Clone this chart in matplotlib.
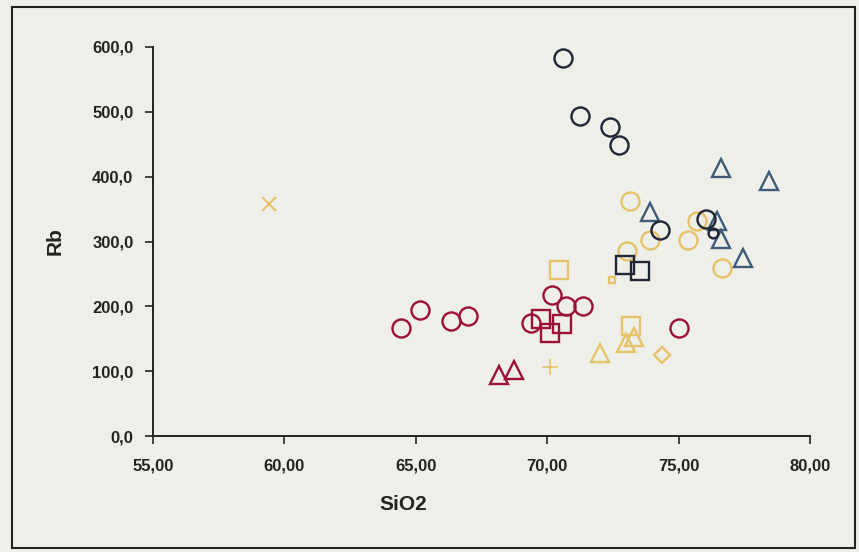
import matplotlib
matplotlib.use("Agg")
import matplotlib.pyplot as plt
from matplotlib.patches import Rectangle
from matplotlib.ticker import FuncFormatter

plt.rcParams['font.family'] = ['Liberation Sans Narrow', 'Liberation Sans', 'DejaVu Sans']

# navy circles
navy_circ_x = [70.6, 71.25, 72.4, 72.75, 74.3, 76.05]
navy_circ_y = [583, 494, 477, 449, 318, 334]
navy_small_x = [76.3]
navy_small_y = [313]
# navy squares
navy_sq_x = [72.95, 73.55]
navy_sq_y = [264, 255]
# steel blue triangles
blue_tri_x = [76.6, 78.45, 73.9, 76.45, 76.6, 77.45]
blue_tri_y = [413, 393, 345, 331, 304, 274]
# yellow group
yel_circ_x = [73.15, 73.9, 73.05, 75.7, 75.35, 76.65]
yel_circ_y = [362, 302, 285, 331, 303, 259]
yel_sq_x = [70.45, 73.2]
yel_sq_y = [256, 169]
yel_small_sq_x = [72.45]
yel_small_sq_y = [241]
yel_tri_x = [72.0, 73.0, 73.3]
yel_tri_y = [128, 143, 152]
yel_dia_x = [74.35]
yel_dia_y = [125]
yel_plus_x = [70.1]
yel_plus_y = [107]
yel_x_x = [59.4]
yel_x_y = [358]
# crimson group
red_circ_x = [64.45, 65.15, 66.35, 67.0, 69.4, 70.2, 70.7, 71.35, 75.0]
red_circ_y = [166, 195, 177, 185, 174, 218, 200, 201, 166]
red_sq_x = [69.75, 70.55, 70.1]
red_sq_y = [180, 173, 159]
red_tri_x = [68.15, 68.75]
red_tri_y = [94, 102]

navy = '#1f2535'
steel = '#3d5a78'
yellow = '#e6c26a'
crimson = '#9c1035'
bg = '#efefe9'

fig = plt.figure(figsize=(8.59, 5.52), dpi=100, facecolor=bg)
ax = fig.add_axes([0.178, 0.210, 0.765, 0.705])
ax.set_facecolor(bg)

def pts(x, y, marker, color, size=13, lw=1.7):
    ax.plot(x, y, linestyle='none', marker=marker, markersize=size,
            markerfacecolor='none', markeredgecolor=color, markeredgewidth=lw,
            clip_on=False)

pts(red_circ_x, red_circ_y, 'o', crimson)
pts(red_sq_x, red_sq_y, 's', crimson)
pts(red_tri_x, red_tri_y, '^', crimson)
pts(yel_circ_x, yel_circ_y, 'o', yellow)
pts(yel_sq_x, yel_sq_y, 's', yellow)
pts(yel_small_sq_x, yel_small_sq_y, 's', yellow, size=5)
pts(yel_tri_x, yel_tri_y, '^', yellow)
pts(yel_dia_x, yel_dia_y, 'D', yellow, size=8)
pts(yel_plus_x, yel_plus_y, '+', yellow, size=11, lw=1.2)
pts(yel_x_x, yel_x_y, 'x', yellow, size=10, lw=1.5)
pts(blue_tri_x, blue_tri_y, '^', steel)
pts(navy_circ_x, navy_circ_y, 'o', navy)
pts(navy_small_x, navy_small_y, 'o', navy, size=7)
pts(navy_sq_x, navy_sq_y, 's', navy)

ax.set_xlim(55, 80)
ax.set_ylim(0, 600)
ax.set_xticks([55, 60, 65, 70, 75, 80])
ax.set_yticks([0, 100, 200, 300, 400, 500, 600])
ax.xaxis.set_major_formatter(FuncFormatter(lambda v, p: f"{v:.2f}".replace('.', ',')))
ax.yaxis.set_major_formatter(FuncFormatter(lambda v, p: f"{v:.1f}".replace('.', ',')))
ax.tick_params(axis='both', direction='out', length=6, width=1.2, labelsize=12,
               colors='#222222')
ax.tick_params(axis='x', pad=10)
ax.tick_params(axis='y', pad=8)
for lbl in ax.get_xticklabels() + ax.get_yticklabels():
    lbl.set_fontweight('bold')
for s in ['top', 'right']:
    ax.spines[s].set_visible(False)
for s in ['left', 'bottom']:
    ax.spines[s].set_linewidth(1.4)
    ax.spines[s].set_color('#222222')

fig.text(403 / 859, 1 - 505 / 552, 'SiO2', ha='center', va='center',
         fontsize=15, fontweight='bold', color='#222222')
fig.text(55 / 859, 1 - 241 / 552, 'Rb', ha='center', va='center', rotation=90,
         fontsize=15, fontweight='bold', color='#222222')

fig.patches.append(Rectangle((12 / 859, 4 / 552), 843 / 859, 541 / 552,
                             transform=fig.transFigure, fill=False,
                             edgecolor='#222222', linewidth=1.5))

fig.savefig('out.png', dpi=100, facecolor=bg)
